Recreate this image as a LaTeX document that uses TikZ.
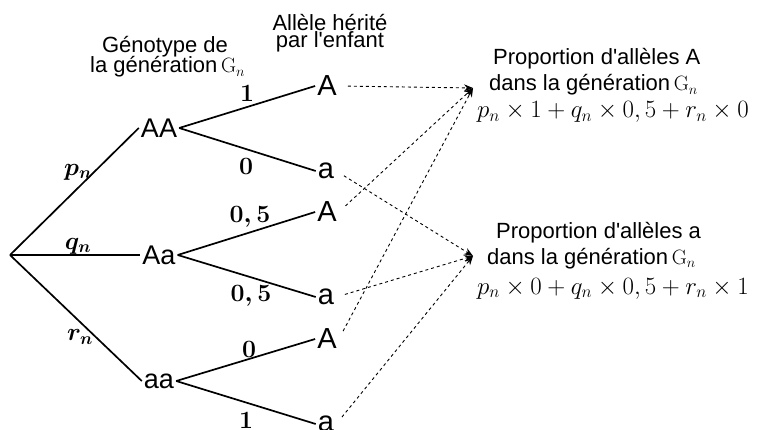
\documentclass[tikz,border=0pt]{standalone}
\usepackage{amsmath}
\usepackage[no-math]{fontspec}
\setmainfont{Liberation Sans}[Ligatures=TeXOff]
\usetikzlibrary{arrows.meta}
\begin{document}
\begin{tikzpicture}[x=1pt,y=-1pt,
  txt/.style={font=\fontsize{22}{24}\selectfont, inner sep=0pt},
  geno/.style={font=\fontsize{27}{30}\selectfont, inner sep=2pt},
  leaf/.style={font=\fontsize{29}{30}\selectfont, inner sep=2pt},
  prob/.style={font=\fontsize{24}{26}\selectfont\boldmath, inner sep=0pt},
  formula/.style={font=\fontsize{25}{27}\selectfont, inner sep=0pt, anchor=base west},
  branch/.style={line width=1.7pt},
  link/.style={dashed, line width=0.9pt, -{Stealth[length=9pt,width=7pt]}, shorten <=9pt}]
\useasboundingbox (0,0) rectangle (762,430);

% headers
\node[txt, anchor=base] (h1) at (165,53) {Génotype de};
\node[txt, anchor=base west] (h2) at (90,73) {la génération\,{\fontsize{22}{24}\selectfont$\mathrm{G}_n$}};
\node[txt, anchor=base] (h3) at (330,31) {Allèle hérité};
\node[txt, anchor=base] (h4) at (330,48) {par l'enfant};

% root and genotypes
\coordinate (root) at (10,255);
\node[geno] (AA) at (159,128) {AA};
\node[geno] (Aa) at (159,255) {Aa};
\node[geno] (aa) at (159,381) {aa};

\draw[branch] (root) -- (AA.west);
\draw[branch] (root) -- (Aa.west);
\draw[branch] (root) -- (aa.west);

\node[prob] (pn) at (78,172) {$p_n$};
\node[prob] (qn) at (78,246) {$q_n$};
\node[prob] (rn) at (80,337) {$r_n$};

% leaves
\node[leaf] (l1) at (327,86) {A};
\node[leaf] (l2) at (326,171) {a};
\node[leaf] (l3) at (327,212) {A};
\node[leaf] (l4) at (326,297) {a};
\node[leaf] (l5) at (327,339) {A};
\node[leaf] (l6) at (326,424) {a};

\draw[branch] (AA.east) -- (l1.west);
\draw[branch] (AA.east) -- (l2.west);
\draw[branch] (Aa.east) -- (l3.west);
\draw[branch] (Aa.east) -- (l4.west);
\draw[branch] (aa.east) -- (l5.west);
\draw[branch] (aa.east) -- (l6.west);

\node[prob] (b1) at (247,93) {$1$};
\node[prob] (b2) at (246,166) {$0$};
\node[prob] (b3) at (250,217) {$0,5$};
\node[prob] (b4) at (251,296) {$0,5$};
\node[prob] (b5) at (249,349) {$0$};
\node[prob] (b6) at (246,420) {$1$};

% right texts
\coordinate (tA) at (473,88);
\coordinate (ta) at (473,256);

\node[txt, anchor=base west] (r1) at (493,65) {Proportion d'allèles A};
\node[txt, anchor=base west] (r2) at (489,91) {dans la génération\,{\fontsize{22}{24}\selectfont$\mathrm{G}_n$}};
\node[formula] (f1) at (477,118) {$p_n\times 1+q_n\times 0,5+r_n\times 0$};

\node[txt, anchor=base west] (r3) at (496,238) {Proportion d'allèles a};
\node[txt, anchor=base west] (r4) at (487,264) {dans la génération\,{\fontsize{22}{24}\selectfont$\mathrm{G}_n$}};
\node[formula] (f2) at (477,294) {$p_n\times 0+q_n\times 0,5+r_n\times 1$};

% dashed links
\draw[link] (l1.east) -- (tA);
\draw[link] (l3.east) -- (tA);
\draw[link] (l5.east) -- (tA);
\draw[link] (l2.east) -- (ta);
\draw[link] (l4.east) -- (ta);
\draw[link] (l6.east) -- (ta);
\end{tikzpicture}
\end{document}
